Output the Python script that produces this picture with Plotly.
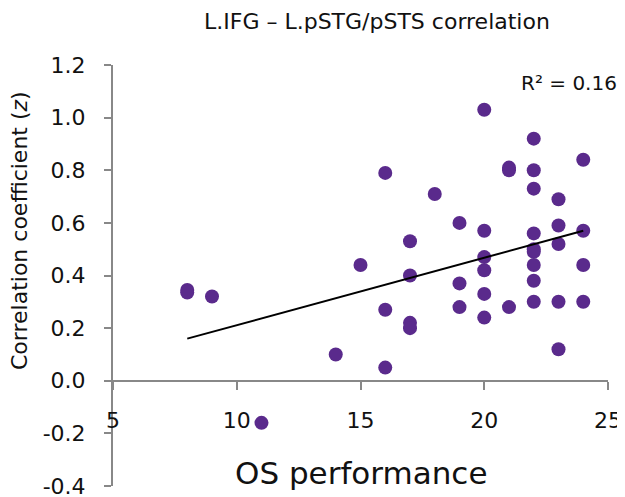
import plotly.graph_objects as go

# Data
os_perf = [8, 8, 9, 11, 14, 15,
           16, 16, 16,
           17, 17, 17, 17,
           18,
           19, 19, 19,
           20, 20, 20, 20, 20, 20,
           21, 21, 21,
           22, 22, 22, 22, 22, 22, 22, 22, 22,
           23, 23, 23, 23, 23,
           24, 24, 24, 24]
corr_z = [0.345, 0.335, 0.32, -0.16, 0.10, 0.44,
          0.79, 0.27, 0.05,
          0.53, 0.40, 0.22, 0.20,
          0.71,
          0.60, 0.37, 0.28,
          1.03, 0.57, 0.47, 0.42, 0.33, 0.24,
          0.81, 0.80, 0.28,
          0.92, 0.80, 0.73, 0.56, 0.50, 0.49, 0.44, 0.38, 0.30,
          0.69, 0.59, 0.52, 0.30, 0.12,
          0.84, 0.57, 0.44, 0.30]
trend_x = [8, 24]
trend_y = [0.16, 0.57]
x_ticks = [5, 10, 15, 20, 25]
y_ticks = [-0.4, -0.2, 0.0, 0.2, 0.4, 0.6, 0.8, 1.0, 1.2]
y_tick_text = ["-0.4", "-0.2", "0.0", "0.2", "0.4", "0.6", "0.8", "1.0", "1.2"]

FONT = "DejaVu Sans"
AXC = "#888888"
TXT = "#111111"

# page body adds an 8px offset; plot area target (screen px): x 113-608, y 65-486
fig = go.Figure()
fig.add_trace(go.Scatter(x=os_perf, y=corr_z, mode="markers",
                         marker=dict(size=14, color="#5a2a8c"),
                         showlegend=False))
fig.add_trace(go.Scatter(x=trend_x, y=trend_y, mode="lines",
                         line=dict(color="black", width=2),
                         showlegend=False))

fig.update_layout(
    width=617, height=489,
    margin=dict(l=105, r=17, t=57, b=11, autoexpand=False),
    paper_bgcolor="white", plot_bgcolor="white",
    font=dict(family=FONT, color=TXT),
    xaxis=dict(range=[5, 25], tickvals=x_ticks, anchor="free", position=0.25,
               automargin=False, ticklabeloverflow="allow",
               showline=True, linecolor=AXC, linewidth=2,
               ticks="outside", ticklen=8, tickcolor=AXC, tickwidth=2,
               ticklabelstandoff=12,
               showgrid=False, zeroline=False,
               tickfont=dict(size=22, color=TXT, family=FONT)),
    yaxis=dict(range=[-0.4, 1.2], tickvals=y_ticks, ticktext=y_tick_text,
               automargin=False, ticklabeloverflow="allow",
               showline=True, linecolor=AXC, linewidth=2,
               ticks="outside", ticklen=7, tickcolor=AXC, tickwidth=2,
               ticklabelstandoff=14,
               showgrid=False, zeroline=False,
               tickfont=dict(size=22, color=TXT, family=FONT)),
)


def px_x(p):
    return (p - 113) / 495


def px_y(p):
    return (486 - p) / 421


common = dict(xref="paper", yref="paper", showarrow=False,
              xanchor="center", yanchor="middle")
fig.add_annotation(text="L.IFG – L.pSTG/pSTS correlation",
                   x=px_x(377), y=px_y(21), **common,
                   font=dict(size=22, color=TXT, family=FONT))
fig.add_annotation(text="Correlation coefficient (<i>z</i>)",
                   x=px_x(19), y=px_y(231), textangle=-90, **common,
                   font=dict(size=22, color=TXT, family=FONT))
fig.add_annotation(text="OS performance",
                   x=px_x(361), y=px_y(473), **common,
                   font=dict(size=31, color=TXT, family=FONT))
fig.add_annotation(text="R² = 0.16",
                   x=px_x(569), y=px_y(83), **common,
                   font=dict(size=20, color=TXT, family=FONT))

fig.write_html("out.html")
